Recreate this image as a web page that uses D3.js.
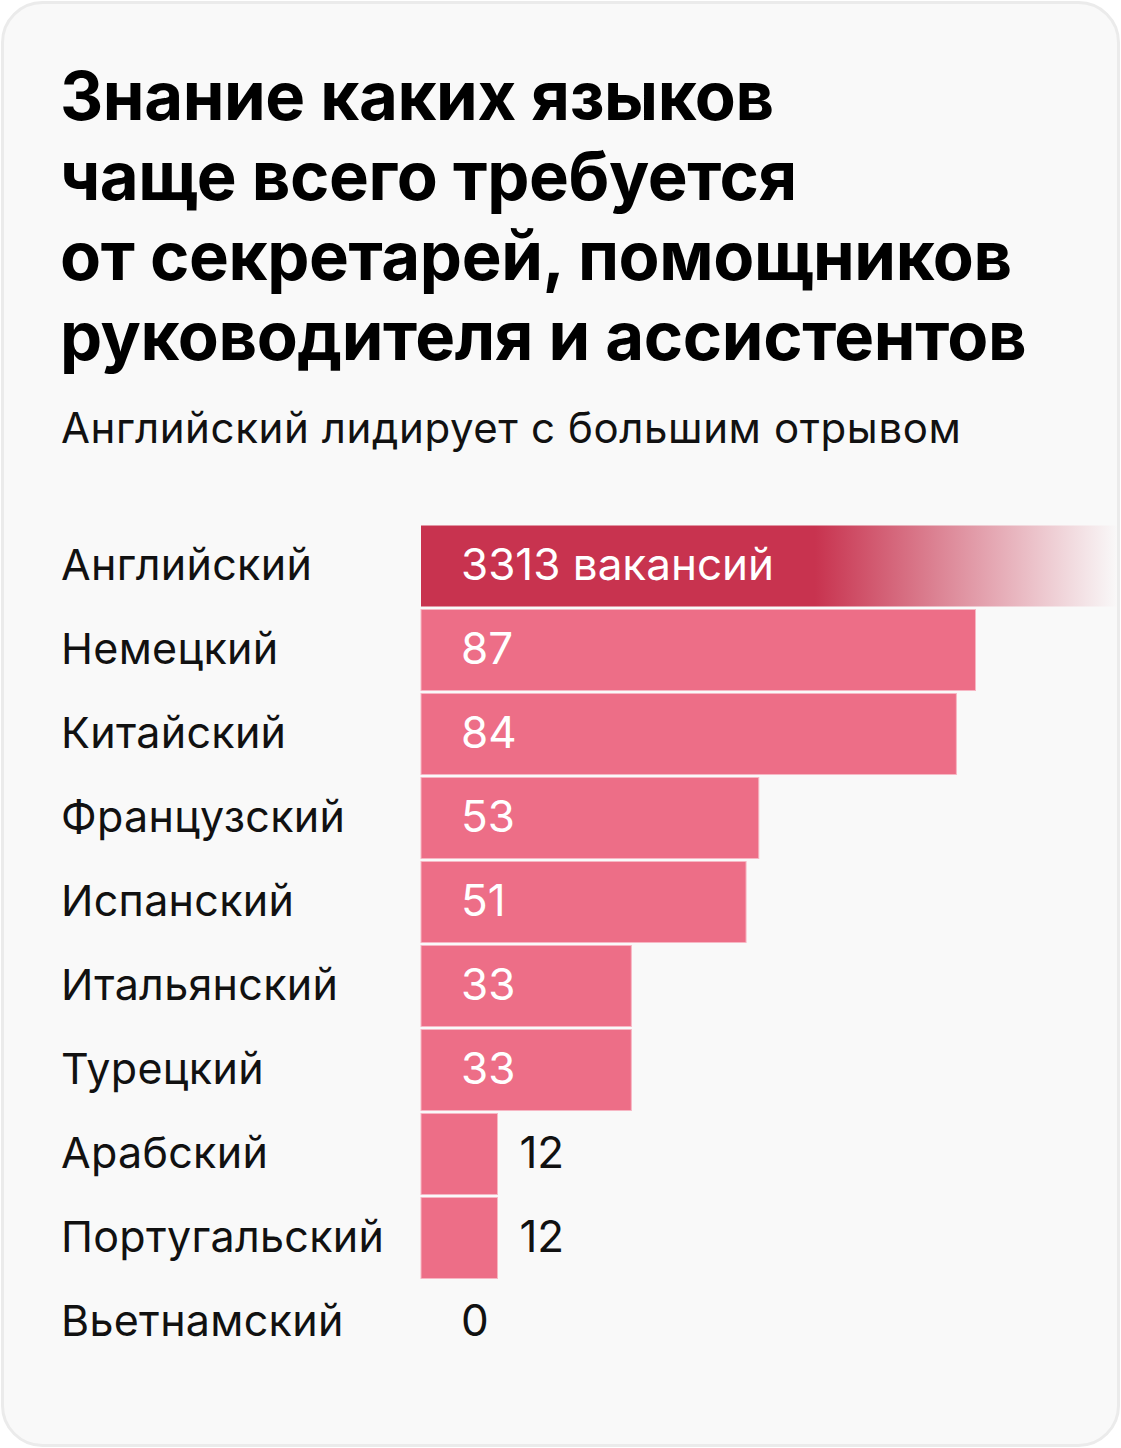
<!DOCTYPE html>
<html>
<head>
<meta charset="utf-8">
<script src="https://cdn.jsdelivr.net/npm/d3@7"></script>
<style>
  html, body { margin: 0; padding: 0; background: #ffffff; }
  svg { display: block; }
  text { font-family: Inter, "Noto Sans", sans-serif; }
</style>
</head>
<body>
<svg id="chart" width="1121" height="1448"></svg>
<script>
const titleLines = [
  "Знание каких языков",
  "чаще всего требуется",
  "от секретарей, помощников",
  "руководителя и ассистентов"
];
const subtitle = "Английский лидирует с большим отрывом";
const categories = ["Английский", "Немецкий", "Китайский", "Французский", "Испанский",
  "Итальянский", "Турецкий", "Арабский", "Португальский", "Вьетнамский"];
const values = [3313, 87, 84, 53, 51, 33, 33, 12, 12, 0];
const valueLabels = ["3313 вакансий", "87", "84", "53", "51", "33", "33", "12", "12", "0"];

const W = 1121, H = 1448;
const svg = d3.select("#chart");
const defs = svg.append("defs");

// card
svg.append("rect")
  .attr("x", 2.5).attr("y", 2.5)
  .attr("width", W - 5).attr("height", H - 5)
  .attr("rx", 40).attr("ry", 40)
  .attr("fill", "#f9f9f9")
  .attr("stroke", "#ebebeb").attr("stroke-width", 3);

// title
const title = svg.append("text")
  .attr("font-size", 67)
  .attr("font-weight", 700)
  .attr("fill", "#000")
  .attr("letter-spacing", -0.4);
title.selectAll("tspan").data(titleLines).join("tspan")
  .attr("x", 60)
  .attr("y", (d, i) => 120 + i * 80)
  .text(d => d);

svg.append("text")
  .attr("x", 61).attr("y", 443)
  .attr("font-size", 42)
  .attr("letter-spacing", 0.6)
  .attr("fill", "#111")
  .text(subtitle);

// scales
const x = d3.scaleLinear().domain([0, 87]).range([421, 975.5]);
const y = d3.scaleBand().domain(categories).range([525, 525 + 84 * categories.length]).paddingInner(0);
const barH = 82;
const xMaxVisible = W - 3;

const grad = defs.append("linearGradient")
  .attr("id", "fade")
  .attr("gradientUnits", "userSpaceOnUse")
  .attr("x1", x(0)).attr("x2", xMaxVisible)
  .attr("y1", 0).attr("y2", 0);
const gx0 = (815 - x(0)) / (xMaxVisible - x(0));
grad.append("stop").attr("offset", 0).attr("stop-color", "#c8334f").attr("stop-opacity", 1);
grad.append("stop").attr("offset", gx0).attr("stop-color", "#c8334f").attr("stop-opacity", 1);
grad.append("stop").attr("offset", 1).attr("stop-color", "#c8334f").attr("stop-opacity", 0);

const clipped = v => v > x.domain()[1];
const barEnd = v => clipped(v) ? xMaxVisible : x(v);

const rows = svg.append("g").selectAll("g")
  .data(categories.map((c, i) => ({ c, v: values[i], l: valueLabels[i] })))
  .join("g");

rows.filter(d => d.v > 0).append("rect")
  .attr("x", x(0))
  .attr("y", d => y(d.c) + 0.5)
  .attr("width", d => barEnd(d.v) - x(0))
  .attr("height", barH - 1)
  .attr("fill", d => clipped(d.v) ? "url(#fade)" : "#ed6e87")
  .attr("stroke", d => clipped(d.v) ? "none" : "#f7b7c4")
  .attr("stroke-width", 1);

// category labels
rows.append("text")
  .attr("x", 61)
  .attr("y", d => y(d.c) + 55)
  .attr("font-size", 43)
  .attr("letter-spacing", 0.3)
  .attr("fill", "#111")
  .text(d => d.c);

// value labels
const inside = d => barEnd(d.v) - x(0) > 150;
rows.append("text")
  .attr("x", d => inside(d) ? x(0) + 40 : Math.max(x(0) + 40, barEnd(d.v) + 22))
  .attr("y", d => y(d.c) + 55)
  .attr("font-size", 44)
  .attr("font-family", "Roboto, Inter, sans-serif")
  .attr("fill", d => inside(d) ? "#ffffff" : "#111")
  .text(d => d.l);
</script>
</body>
</html>
